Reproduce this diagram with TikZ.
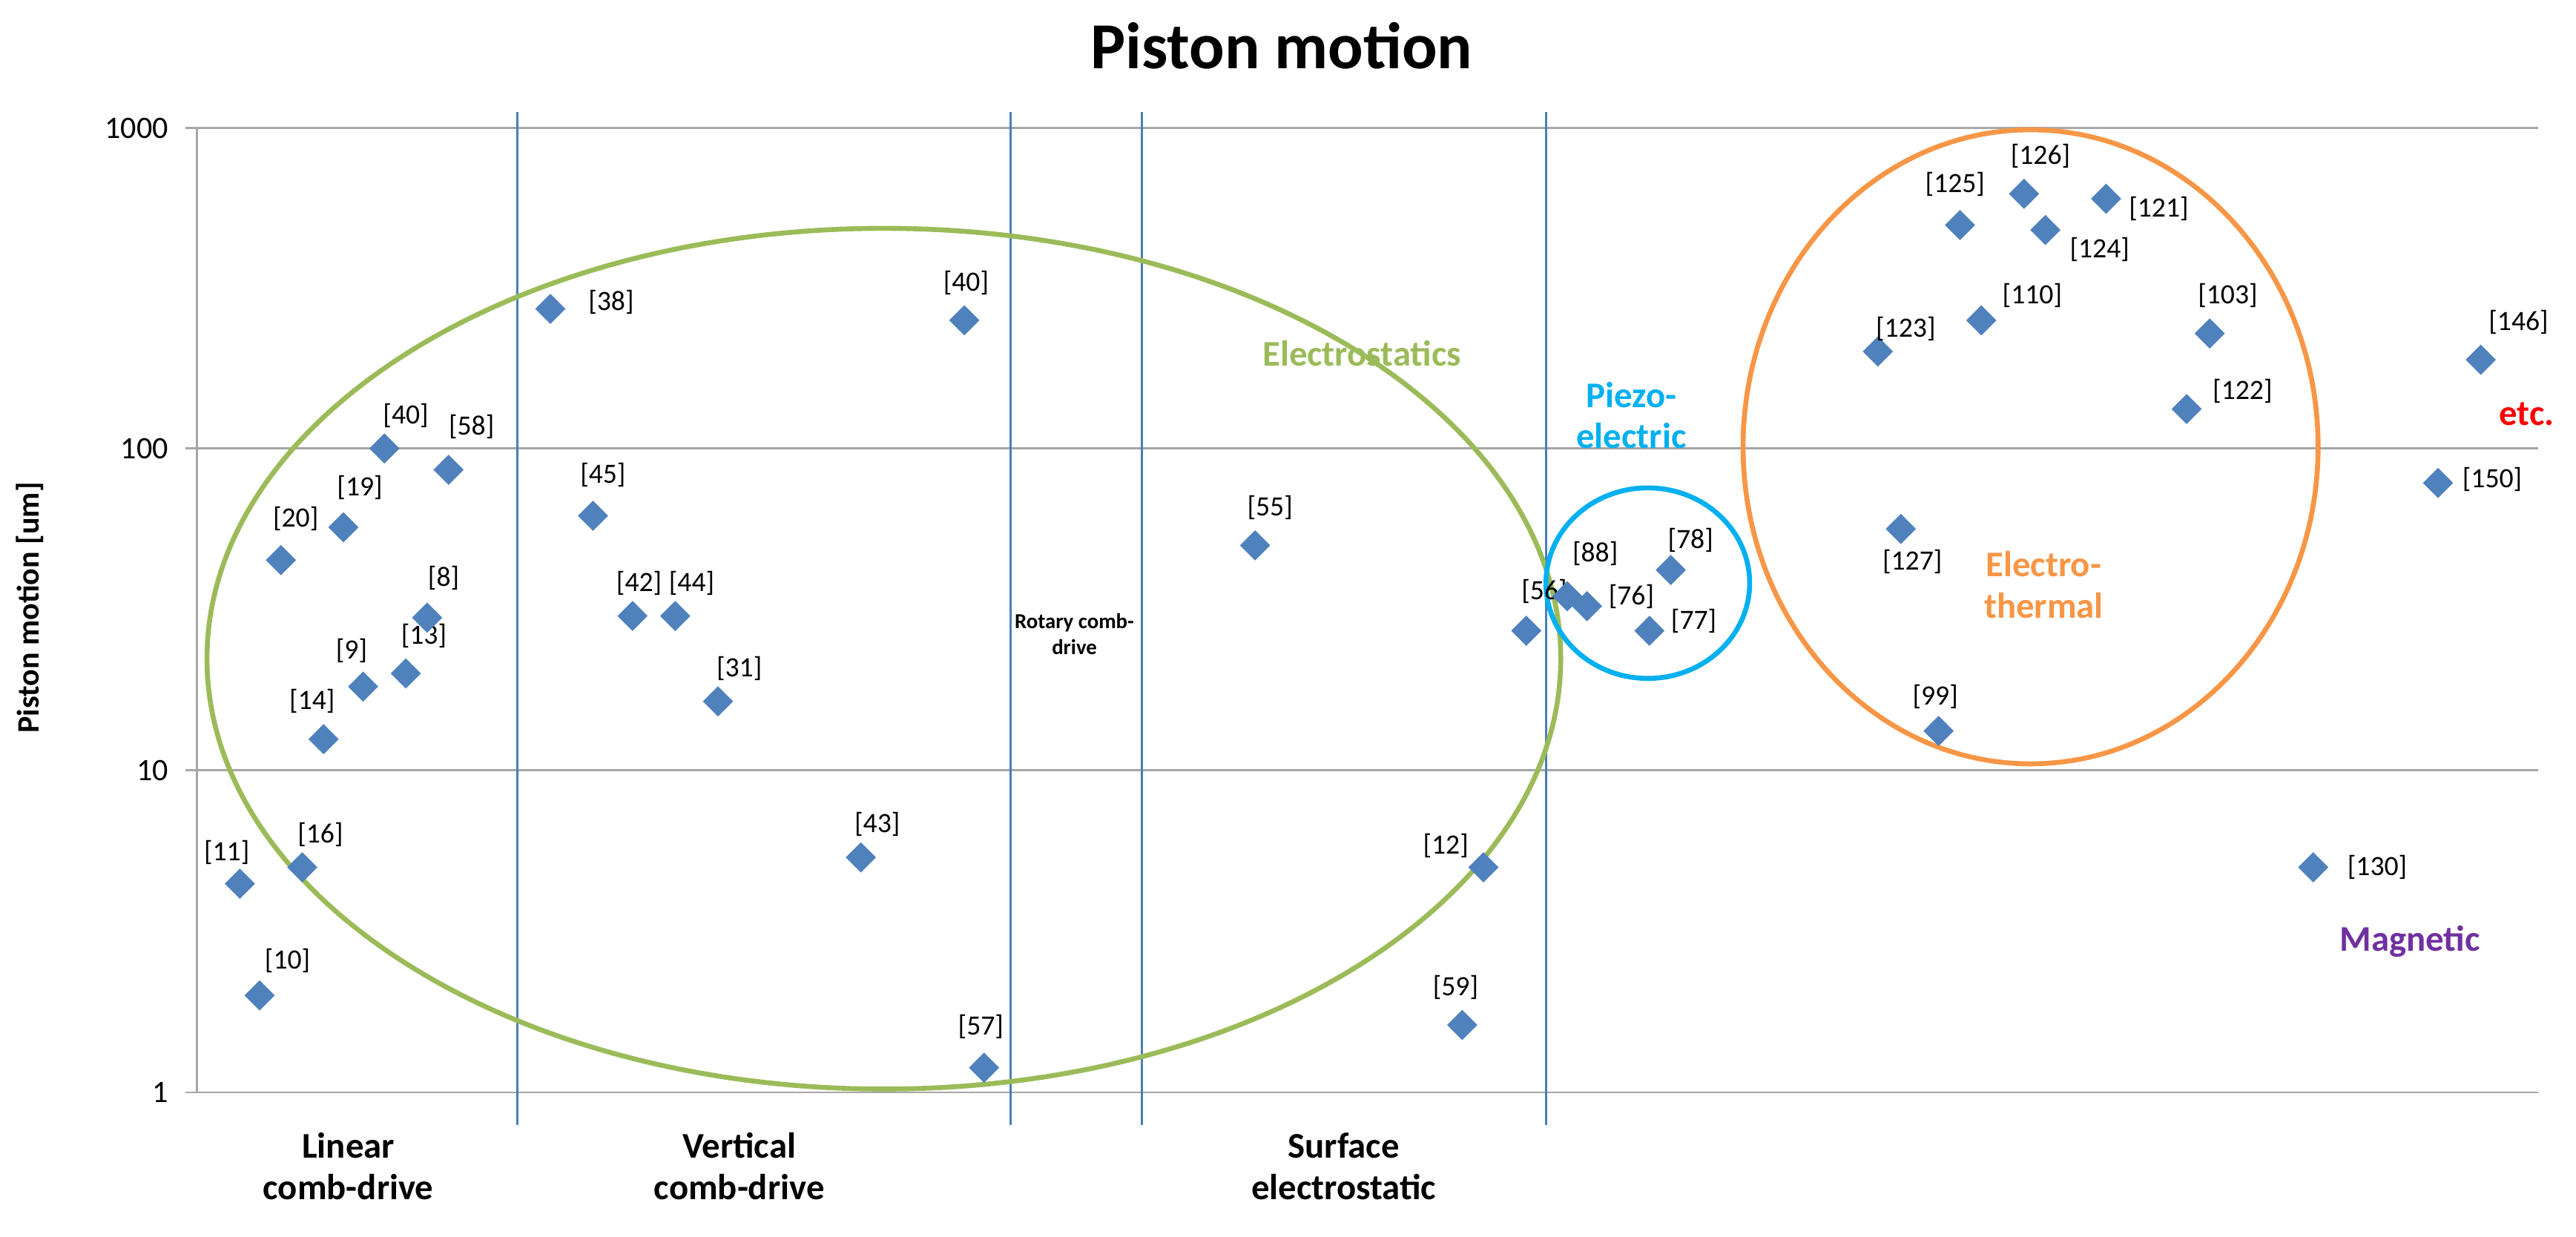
\documentclass[tikz,border=0pt]{standalone}
\usepackage{fontspec}
\setmainfont{Carlito}
\usetikzlibrary{positioning}
\definecolor{ptblue}{HTML}{4F81BD}
\definecolor{sepblue}{HTML}{4A7EBB}
\definecolor{esgreen}{HTML}{9BBB59}
\definecolor{pzcyan}{HTML}{00B0F0}
\definecolor{etorange}{HTML}{F79646}
\definecolor{mgpurple}{HTML}{7030A0}
\tikzset{
  pt/.style={fill=ptblue,draw=none,minimum size=13pt,inner sep=0pt,rotate=45,rectangle},
  ref/.style={font=\fontsize{17}{19}\selectfont,inner sep=0pt},
  cat/.style={font=\fontsize{22}{25}\selectfont\bfseries,align=center},
  tick/.style={font=\fontsize{19}{21}\selectfont,anchor=east},
}
\begin{document}
\begin{tikzpicture}[x=1pt,y=-1pt]
	\useasboundingbox (0,0) rectangle (1568,753);

	% grid and axes
	\foreach \gy/\gl in {78/1000,273/100,469/10,665/1}{
	  \draw[gray!70,line width=1.2] (113,\gy) -- (1545,\gy);
	  \node[tick] at (106,\gy) {\gl};
	}
	\draw[gray!70,line width=1.2] (120,78) -- (120,665);
	\foreach \vx in {315,615,695,941}
	  \draw[sepblue,line width=1.3] (\vx,68) -- (\vx,685);

	\node[font=\fontsize{40}{44}\selectfont\bfseries] (title) at (780,28) {Piston motion};
	\node[rotate=90,font=\fontsize{19}{21}\selectfont\bfseries] (ylab) at (18,370) {Piston motion [um]};

	% groups
	\draw[esgreen,line width=3] (538,401) ellipse [x radius=412,y radius=262];
	\draw[pzcyan,line width=3] (1003,355) ellipse [x radius=62,y radius=58];
	\draw[etorange,line width=3] (1236,272) ellipse [x radius=175,y radius=193];

	% data
	\foreach \px/\py/\lb/\lx/\ly [count=\i] in {
	  146/538/11/138/519, 158/606/10/175/585, 184/528/16/195/508,
	  171/341/20/180/316, 209/321/19/219/297, 234/273/40/247/253,
	  273/286/58/287/260, 197/450/14/190/427, 221/418/9/214/396,
	  247/410/13/258/387, 260/376/8/270/352, 335/188/38/372/184,
	  361/314/45/367/289, 385/375/42/389/355, 411/375/44/421/355,
	  437/427/31/450/407, 524/522/43/534/502, 599/650/57/597/625,
	  587/195/40/588/172, 764/332/55/773/309, 929/384/56/940/360,
	  903/528/12/880/515, 890/624/59/886/601, 954/363/88/971/337,
	  966/369/76/993/363, 1017/347/78/1029/329, 1004/384/77/1031/378,
	  1193/137/125/1190/112, 1232/118/126/1242/95, 1245/140/124/1278/152,
	  1282/121/121/1314/127, 1143/214/123/1160/200, 1206/195/110/1237/180,
	  1345/203/103/1356/180, 1331/249/122/1365/238, 1157/322/127/1164/342,
	  1180/445/99/1178/424, 1510/219/146/1533/196, 1484/294/150/1517/292,
	  1408/528/130/1447/528}{
	  \node[pt] (p\i) at (\px,\py) {};
	  \node[ref] (r\i) at (\lx,\ly) {[\lb]};
	}

	% labels
	\node[cat,font=\fontsize{13}{16}\selectfont\bfseries] (rot) at (654,386) {Rotary comb-\\drive};
	\node[cat] (lin) at (212,710) {Linear\\comb-drive};
	\node[cat] (ver) at (450,710) {Vertical\\comb-drive};
	\node[cat] (sur) at (818,710) {Surface\\electrostatic};
	\node[cat,text=esgreen] (es) at (829,215) {Electrostatics};
	\node[cat,text=pzcyan] (pz) at (993,253) {Piezo-\\electric};
	\node[cat,text=etorange] (et) at (1244,356) {Electro-\\thermal};
	\node[cat,text=red] (etc) at (1538,252) {etc.};
	\node[cat,text=mgpurple] (mg) at (1467,573) {Magnetic};
\end{tikzpicture}
\end{document}
